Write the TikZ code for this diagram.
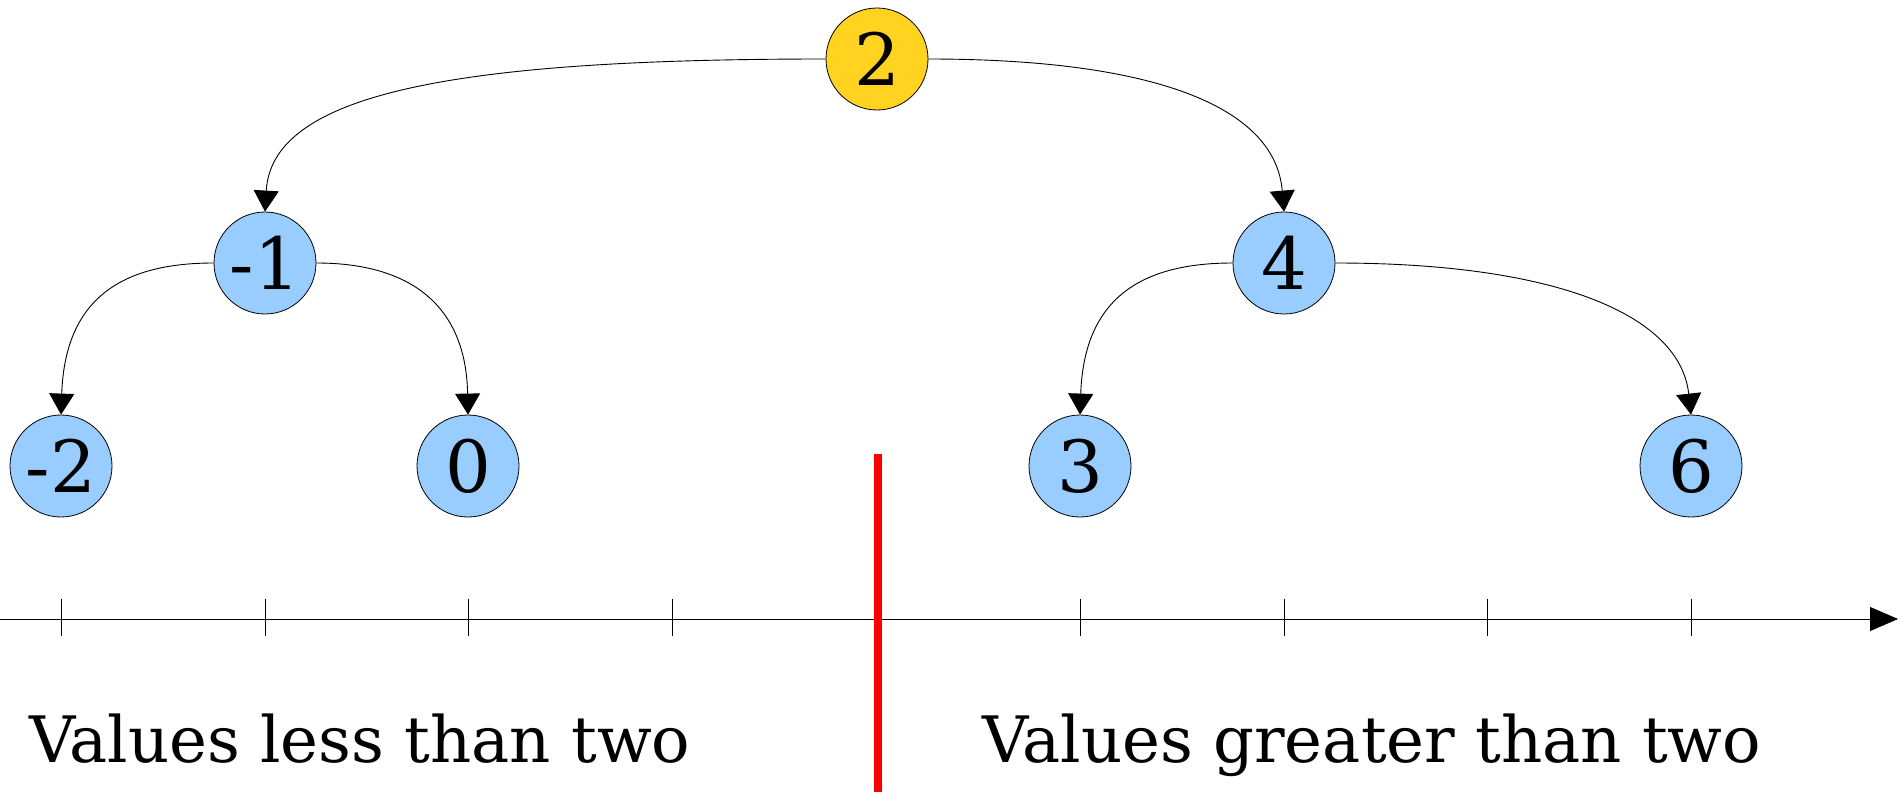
\documentclass[tikz,border=0pt]{standalone}
\usepackage{fontspec}
\setmainfont{DejaVu Serif}
\usetikzlibrary{arrows.meta}
\definecolor{nodeblue}{HTML}{99CCFF}
\definecolor{nodeyellow}{HTML}{FFD320}
\tikzset{
  vnode/.style={circle, draw=black, line width=0.8pt, fill=nodeblue, minimum size=102pt, inner sep=0pt, font=\fontsize{72}{86}\selectfont},
  rootnode/.style={vnode, fill=nodeyellow},
  conn/.style={draw=black, line width=0.9pt, -{Triangle[length=21pt,width=25pt]}},
  tickmark/.style={draw=black, line width=0.9pt},
  label/.style={anchor=base west, inner sep=0pt, font=\fontsize{64}{77}\selectfont}
}
\begin{document}
\begin{tikzpicture}[x=1pt,y=-1pt]
\useasboundingbox (0,0) rectangle (1902,792);
% axis
\coordinate (ax0) at (0,619);
\coordinate (ax1) at (1898,619);
\draw[line width=0.9pt, -{Triangle[length=28pt,width=24pt]}] (ax0) -- (ax1);
\foreach \x in {61,265,468,672,877,1080,1284,1487,1691}{
  \draw[tickmark] (\x,599) -- (\x,636);
}
% nodes
\node[rootnode] (n2) at (877,59) {2};
\node[vnode] (nm1) at (265,263) {-1};
\node[vnode] (n4) at (1284,263) {4};
\node[vnode] (nm2) at (61,466) {-2};
\node[vnode] (n0) at (468,466) {0};
\node[vnode] (n3) at (1080,466) {3};
\node[vnode] (n6) at (1691,466) {6};
% connectors
\draw[conn] (n2.west) .. controls (460,59) and (272,92) .. (nm1.north);
\draw[conn] (n2.east) .. controls (1150,59) and (1275,105) .. (n4.north);
\draw[conn] (nm1.west) .. controls (120,263) and (65,300) .. (nm2.north);
\draw[conn] (nm1.east) .. controls (410,263) and (466,305) .. (n0.north);
\draw[conn] (n4.west) .. controls (1139,263) and (1084,300) .. (n3.north);
\draw[conn] (n4.east) .. controls (1557,263) and (1680,315) .. (n6.north);
% red divider
\coordinate (r0) at (878,454);
\coordinate (r1) at (878,792);
\draw[red, line width=8pt] (r0) -- (r1);
% labels
\node[label] (lless) at (29,762) {Values less than two};
\node[label] (lgreat) at (982,762) {Values greater than two};
\end{tikzpicture}
\end{document}
